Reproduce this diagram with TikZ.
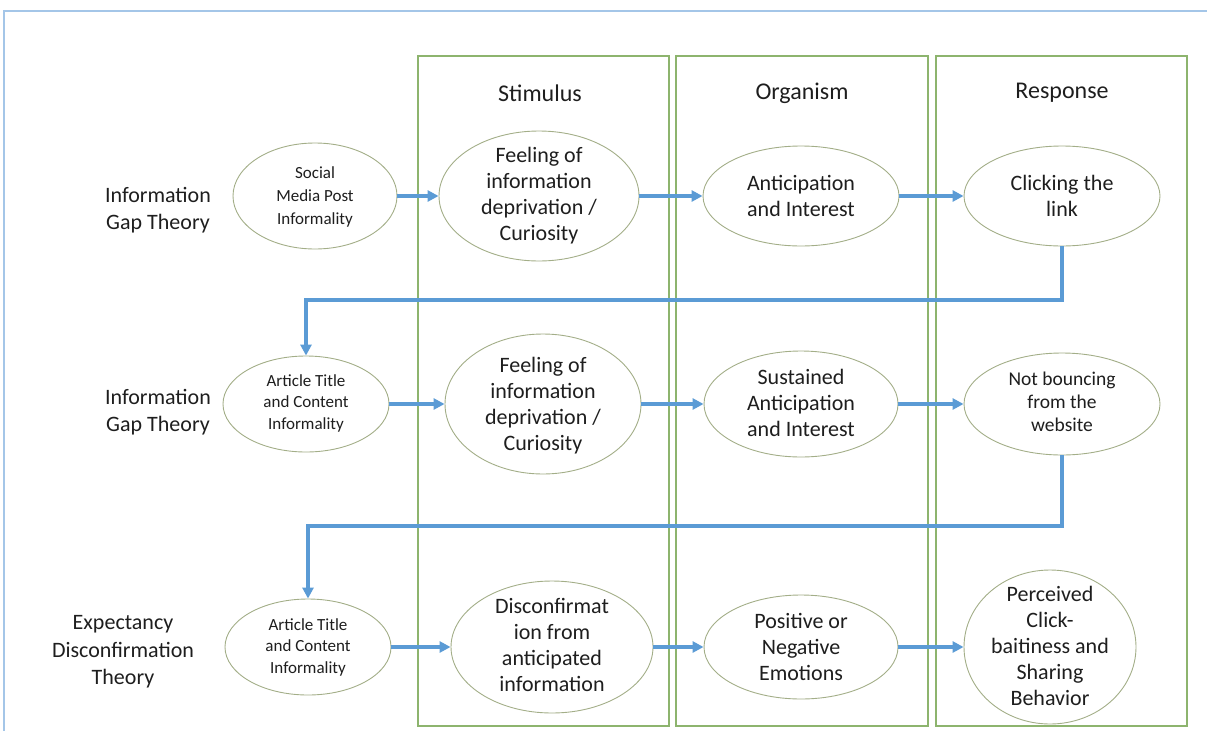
\documentclass[tikz,border=0pt]{standalone}
\usepackage{fontspec}
\setmainfont{Carlito}
\usetikzlibrary{arrows.meta,shapes.geometric}
\definecolor{arrowblue}{HTML}{5B9BD5}
\definecolor{framblue}{HTML}{A4C6E8}
\definecolor{boxgreen}{HTML}{8DB46E}
\definecolor{ellborder}{HTML}{A3AE88}
\definecolor{txt}{HTML}{1E1E1E}
\tikzset{
  colbox/.style={draw=boxgreen, line width=1.1pt, rectangle, inner sep=0pt},
  ell/.style={draw=ellborder, line width=0.9pt, ellipse, inner sep=0pt, fill=white},
  bigtxt/.style={align=center, text=txt, font=\fontsize{22}{26}\selectfont, inner sep=0pt},
  midtxt/.style={align=center, text=txt, font=\fontsize{19.5}{23}\selectfont, inner sep=0pt},
  smalltxt/.style={align=center, text=txt, font=\fontsize{17}{21.5}\selectfont, inner sep=0pt},
  labtxt/.style={align=center, text=txt, font=\fontsize{22}{27.5}\selectfont, inner sep=0pt},
  headtxt/.style={align=center, text=txt, font=\fontsize{24}{28}\selectfont, inner sep=0pt},
  flow/.style={draw=arrowblue, line width=4pt, -{Triangle[length=11pt,width=11pt]}}
}
\begin{document}
\begin{tikzpicture}[x=1pt,y=-1pt]
\useasboundingbox (0,0) rectangle (1207,731);
% outer frame
\coordinate (fa) at (1207,11);
\coordinate (fb) at (4,11);
\coordinate (fc) at (4,731);
\draw[framblue, line width=2pt] (fa) -- (fb) -- (fc);
% column boxes
\node[colbox, minimum width=251pt, minimum height=670pt] (sbox) at (543.5,391) {};
\node[colbox, minimum width=252pt, minimum height=670pt] (obox) at (802,391) {};
\node[colbox, minimum width=251pt, minimum height=670pt] (rbox) at (1061.5,391) {};
\node[headtxt] (hs) at (540,93) {Stimulus};
\node[headtxt] (ho) at (802,93) {Organism};
\node[headtxt] (hr) at (1062,93) {Response};
% row labels
\node[labtxt] (l1) at (158,210) {Information\\Gap Theory};
\node[labtxt] (l2) at (158,412) {Information\\Gap Theory};
\node[labtxt] (l3) at (123,652) {Expectancy\\Disconfirmation\\Theory};
% row 1
\node[ell, minimum width=164pt, minimum height=106pt] (e11) at (315,196) {};
\node[smalltxt, font=\fontsize{17}{23}\selectfont] (t11) at (315,197) {Social\\Media Post\\Informality};
\node[ell, minimum width=200pt, minimum height=130pt] (e12) at (539,196) {};
\node[bigtxt] (t12) at (539,196) {Feeling of\\information\\deprivation /\\Curiosity};
\node[ell, minimum width=196pt, minimum height=100pt] (e13) at (801,196) {};
\node[bigtxt] (t13) at (801,196) {Anticipation\\and Interest};
\node[ell, minimum width=196pt, minimum height=100pt] (e14) at (1062,196) {};
\node[bigtxt] (t14) at (1062,196) {Clicking the\\link};
% row 2
\node[ell, minimum width=166pt, minimum height=96pt] (e21) at (306,404) {};
\node[smalltxt] (t21) at (306,403) {Article Title\\and Content\\Informality};
\node[ell, minimum width=196pt, minimum height=140pt] (e22) at (543,404) {};
\node[bigtxt] (t22) at (543,406) {Feeling of\\information\\deprivation /\\Curiosity};
\node[ell, minimum width=194pt, minimum height=106pt] (e23) at (801,404) {};
\node[bigtxt] (t23) at (801,403) {Sustained\\Anticipation\\and Interest};
\node[ell, minimum width=196pt, minimum height=102pt] (e24) at (1062,404) {};
\node[midtxt] (t24) at (1062,402) {Not bouncing\\from the\\website};
% row 3
\node[ell, minimum width=166pt, minimum height=96pt] (e31) at (308,647) {};
\node[smalltxt] (t31) at (308,647) {Article Title\\and Content\\Informality};
\node[ell, minimum width=202pt, minimum height=132pt] (e32) at (552,647) {};
\node[bigtxt] (t32) at (552,645) {Disconfirmat\\ion from\\anticipated\\information};
\node[ell, minimum width=194pt, minimum height=104pt] (e33) at (801,647) {};
\node[bigtxt] (t33) at (801,647) {Positive or\\Negative\\Emotions};
\node[ell, minimum width=172pt, minimum height=154pt] (e34) at (1050,647) {};
\node[bigtxt] (t34) at (1050,646) {Perceived\\Click-\\baitiness and\\Sharing\\Behavior};
% arrows
\draw[flow] (e11.east) -- (e12.west);
\draw[flow] (e12.east) -- (e13.west);
\draw[flow] (e13.east) -- (e14.west);
\draw[flow] (e21.east) -- (e22.west);
\draw[flow] (e22.east) -- (e23.west);
\draw[flow] (e23.east) -- (e24.west);
\draw[flow] (e31.east) -- (e32.west);
\draw[flow] (e32.east) -- (e33.west);
\draw[flow] (e33.east) -- (e34.west);
\coordinate (f1) at (1062,300);
\coordinate (f2) at (1062,526);
\draw[flow] (e14.south) -- (f1) -| (e21.north);
\draw[flow] (e24.south) -- (f2) -| (e31.north);
\end{tikzpicture}
\end{document}
